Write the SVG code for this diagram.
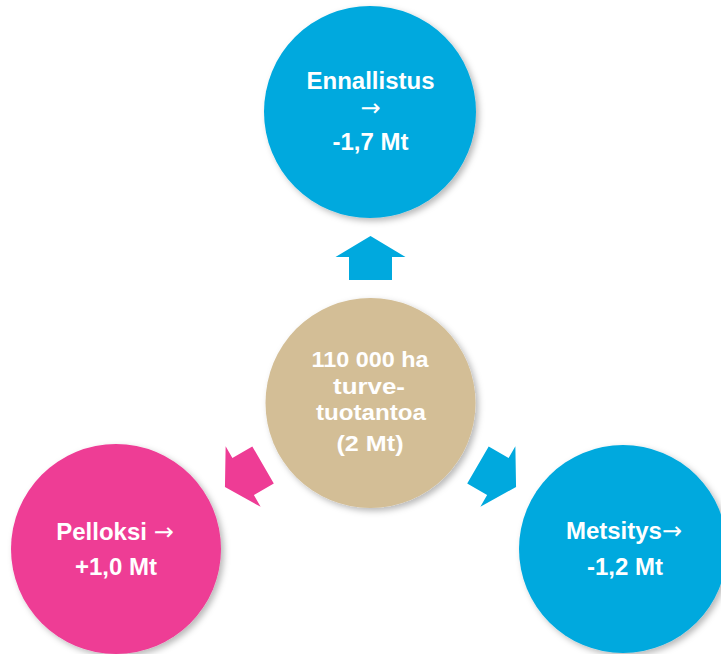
<svg xmlns="http://www.w3.org/2000/svg" width="721" height="654" viewBox="0 0 721 654">
<style>
.t{font-family:"Liberation Sans",Arial,sans-serif;font-weight:bold;fill:#fff;text-anchor:middle}
.o{font-size:24px}
.c{font-size:22px}
.ar{font-family:"DejaVu Sans",sans-serif;font-weight:normal}
.blue{fill:#00A9DE}
.pink{fill:#EE3C95}
.beige{fill:#D3BE96}
</style>
<defs>
<filter id="sh" x="-20%" y="-20%" width="140%" height="140%">
<feDropShadow dx="3" dy="3" stdDeviation="3" flood-color="#000" flood-opacity="0.28"/>
</filter>
<path id="arr" d="M0,-22 L35,-1 L21.5,-1 L21.5,22 L-21.5,22 L-21.5,-1 L-35,-1 Z"/>
</defs>
<rect width="721" height="654" fill="#fff"/>
<g id="connectors">
<use href="#arr" class="blue" transform="translate(370.5,258)"/>
<use href="#arr" class="pink" transform="translate(244,476) rotate(-120)"/>
<use href="#arr" class="blue" transform="translate(497,476) rotate(120)"/>
</g>
<g id="center">
<circle cx="370.5" cy="403" r="105" class="beige" filter="url(#sh)"/>
<text class="t c" x="370" y="367" textLength="117" lengthAdjust="spacingAndGlyphs">110 000 ha</text>
<text class="t c" x="369" y="394" textLength="72" lengthAdjust="spacingAndGlyphs">turve-</text>
<text class="t c" x="371" y="420" textLength="110" lengthAdjust="spacingAndGlyphs">tuotantoa</text>
<text class="t c" x="370" y="451" textLength="67" lengthAdjust="spacingAndGlyphs">(2 Mt)</text>
</g>
<g id="ennallistus">
<circle cx="370" cy="112" r="106" class="blue" filter="url(#sh)"/>
<text class="t o" x="370.5" y="89">Ennallistus</text>
<text class="t o ar" x="370.5" y="116">→</text>
<text class="t o" x="370.5" y="150">-1,7 Mt</text>
</g>
<g id="pelloksi">
<circle cx="116" cy="549" r="105" class="pink" filter="url(#sh)"/>
<text class="t o" x="115" y="540">Pelloksi <tspan class="ar">→</tspan></text>
<text class="t o" x="116" y="575">+1,0 Mt</text>
</g>
<g id="metsitys">
<circle cx="623" cy="549" r="104" class="blue" filter="url(#sh)"/>
<text class="t o" x="624" y="539">Metsitys<tspan class="ar">→</tspan></text>
<text class="t o" x="625" y="575">-1,2 Mt</text>
</g>
</svg>
